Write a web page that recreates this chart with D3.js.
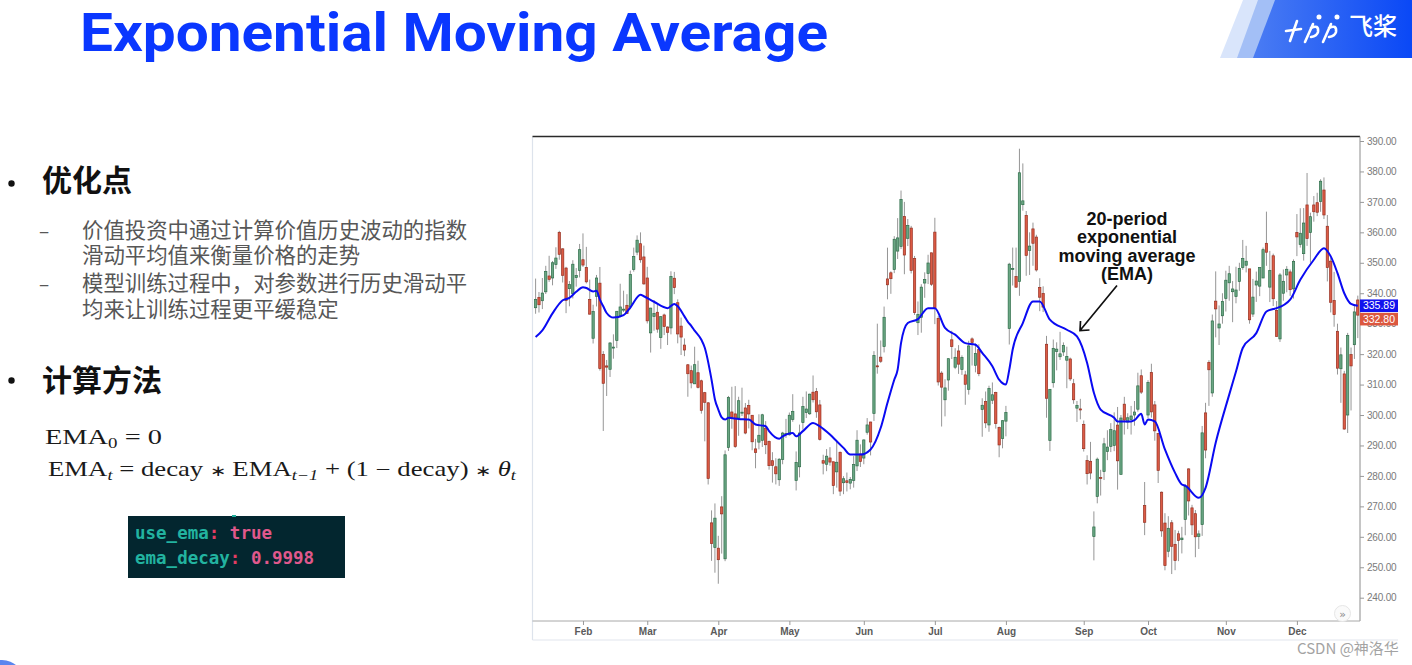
<!DOCTYPE html>
<html><head><meta charset="utf-8">
<script src="https://cdn.jsdelivr.net/npm/d3@7"></script>
<style>html,body{margin:0;padding:0;background:#fff;} svg{display:block;}</style>
</head><body>
<svg id="s" width="1412" height="665"></svg>
<script>
// ---------------- DATA ----------------
const dates = [
"2018-01-11","2018-01-12","2018-01-16","2018-01-17","2018-01-18","2018-01-19","2018-01-22","2018-01-23","2018-01-24","2018-01-25","2018-01-26","2018-01-29","2018-01-30","2018-01-31",
"2018-02-01","2018-02-02","2018-02-05","2018-02-06","2018-02-07","2018-02-08","2018-02-09","2018-02-12","2018-02-13","2018-02-14","2018-02-15","2018-02-16","2018-02-20","2018-02-21","2018-02-22","2018-02-23","2018-02-26","2018-02-27","2018-02-28",
"2018-03-01","2018-03-02","2018-03-05","2018-03-06","2018-03-07","2018-03-08","2018-03-09","2018-03-12","2018-03-13","2018-03-14","2018-03-15","2018-03-16","2018-03-19","2018-03-20","2018-03-21","2018-03-22","2018-03-23","2018-03-26","2018-03-27","2018-03-28","2018-03-29",
"2018-04-02","2018-04-03","2018-04-04","2018-04-05","2018-04-06","2018-04-09","2018-04-10","2018-04-11","2018-04-12","2018-04-13","2018-04-16","2018-04-17","2018-04-18","2018-04-19","2018-04-20","2018-04-23","2018-04-24","2018-04-25","2018-04-26","2018-04-27","2018-04-30",
"2018-05-01","2018-05-02","2018-05-03","2018-05-04","2018-05-07","2018-05-08","2018-05-09","2018-05-10","2018-05-11","2018-05-14","2018-05-15","2018-05-16","2018-05-17","2018-05-18","2018-05-21","2018-05-22","2018-05-23","2018-05-24","2018-05-25","2018-05-29","2018-05-30","2018-05-31",
"2018-06-01","2018-06-04","2018-06-05","2018-06-06","2018-06-07","2018-06-08","2018-06-11","2018-06-12","2018-06-13","2018-06-14","2018-06-15","2018-06-18","2018-06-19","2018-06-20","2018-06-21","2018-06-22","2018-06-25","2018-06-26","2018-06-27","2018-06-28","2018-06-29",
"2018-07-02","2018-07-03","2018-07-05","2018-07-06","2018-07-09","2018-07-10","2018-07-11","2018-07-12","2018-07-13","2018-07-16","2018-07-17","2018-07-18","2018-07-19","2018-07-20","2018-07-23","2018-07-24","2018-07-25","2018-07-26","2018-07-27","2018-07-30","2018-07-31",
"2018-08-01","2018-08-02","2018-08-03","2018-08-06","2018-08-07","2018-08-08","2018-08-09","2018-08-10","2018-08-13","2018-08-14","2018-08-15","2018-08-16","2018-08-17","2018-08-20","2018-08-21","2018-08-22","2018-08-23","2018-08-24","2018-08-27","2018-08-28","2018-08-29","2018-08-30","2018-08-31",
"2018-09-04","2018-09-05","2018-09-06","2018-09-07","2018-09-10","2018-09-11","2018-09-12","2018-09-13","2018-09-14","2018-09-17","2018-09-18","2018-09-19","2018-09-20","2018-09-21","2018-09-24","2018-09-25","2018-09-26","2018-09-27","2018-09-28",
"2018-10-01","2018-10-02","2018-10-03","2018-10-04","2018-10-05","2018-10-08","2018-10-09","2018-10-10","2018-10-11","2018-10-12","2018-10-15","2018-10-16","2018-10-17","2018-10-18","2018-10-19","2018-10-22","2018-10-23","2018-10-24","2018-10-25","2018-10-26","2018-10-29","2018-10-30","2018-10-31",
"2018-11-01","2018-11-02","2018-11-05","2018-11-06","2018-11-07","2018-11-08","2018-11-09","2018-11-12","2018-11-13","2018-11-14","2018-11-15","2018-11-16","2018-11-19","2018-11-20","2018-11-21","2018-11-23","2018-11-26","2018-11-27","2018-11-28","2018-11-29","2018-11-30",
"2018-12-03","2018-12-04","2018-12-06","2018-12-07","2018-12-10","2018-12-11","2018-12-12","2018-12-13","2018-12-14","2018-12-17","2018-12-18","2018-12-19","2018-12-20","2018-12-21","2018-12-24","2018-12-26","2018-12-27","2018-12-28","2018-12-31"];

const opens = [
335.24,338.63,337.54,340.47,345.67,345.01,349.40,360.00,354.58,348.27,341.50,339.85,345.14,347.51,
351.00,348.44,337.97,325.21,338.99,343.31,319.93,316.13,315.02,322.21,324.50,332.50,334.47,336.03,335.53,347.83,353.50,356.27,351.92,
345.01,326.98,332.39,333.75,325.44,332.86,328.90,328.61,344.92,336.88,329.20,322.98,316.50,314.57,310.25,313.89,311.25,307.34,304.00,264.58,256.49,
256.26,269.82,252.78,289.34,301.00,300.37,299.00,300.74,302.32,303.10,299.92,288.87,291.09,291.70,295.70,291.29,285.00,283.00,278.75,285.37,293.61,
293.51,298.57,278.49,283.00,297.50,300.80,300.41,307.50,307.70,303.32,285.01,283.83,285.90,284.65,281.33,287.76,277.76,278.40,277.63,278.51,283.29,287.21,
285.86,294.34,297.70,300.50,316.15,319.00,322.51,344.70,346.71,347.80,353.84,355.40,365.16,358.04,361.40,351.36,330.32,332.10,343.35,346.53,353.28,
360.07,331.75,313.76,305.00,311.50,324.70,315.70,321.04,315.00,313.18,308.45,325.00,316.33,321.50,301.84,304.42,296.74,304.85,307.36,295.90,292.25,
297.99,328.44,347.81,345.46,343.84,369.09,365.55,354.00,361.13,358.45,341.91,339.91,323.24,291.61,310.61,320.87,319.14,320.70,318.00,318.41,310.27,302.26,302.00,
296.94,285.05,284.80,260.10,273.26,279.47,281.44,288.00,289.70,290.04,296.69,280.51,303.56,297.70,298.48,300.00,301.91,312.90,270.26,
300.00,313.95,303.33,293.95,274.65,264.52,255.25,264.61,257.53,261.00,259.06,265.70,282.30,269.50,267.60,260.10,264.00,300.70,317.30,307.25,337.40,328.60,332.60,
338.26,343.43,340.50,338.90,343.87,348.50,349.20,348.00,333.16,342.70,342.33,345.00,356.40,342.00,352.30,334.30,325.00,340.00,346.00,347.00,341.44,
360.00,356.05,353.00,369.00,359.90,369.00,369.74,370.15,373.90,362.00,350.54,337.60,327.50,315.20,313.50,300.00,319.84,323.10,337.79];

const highs = [
344.81,340.41,345.00,349.00,352.30,350.59,355.09,360.50,354.75,348.67,344.00,350.85,348.27,356.19,
359.66,355.23,344.47,336.22,346.00,348.62,320.99,318.08,323.95,326.50,334.12,343.12,340.84,339.69,347.44,354.99,359.00,359.99,355.64,
348.67,335.22,337.75,336.37,332.50,333.30,329.10,347.21,347.00,337.99,332.00,325.15,316.74,316.25,322.44,317.84,311.61,307.59,304.27,268.68,270.96,
260.33,273.35,288.37,306.26,309.28,309.50,306.00,308.98,303.95,305.00,299.98,292.17,300.24,300.40,298.00,291.62,287.80,285.80,285.85,294.47,298.73,
300.82,306.85,288.04,296.86,305.98,307.75,307.01,312.99,308.88,304.94,286.96,288.81,289.44,284.65,291.49,288.00,279.91,281.11,279.64,286.50,295.01,290.37,
291.95,299.00,297.80,320.98,330.00,324.48,335.62,354.97,347.20,358.75,364.67,373.73,370.00,364.38,362.12,352.25,337.30,342.96,346.87,352.63,353.28,
364.78,332.49,314.39,311.75,318.55,327.69,321.94,322.96,319.60,314.50,324.39,325.50,323.54,323.24,305.50,307.72,309.62,310.70,307.65,296.20,298.32,
303.00,349.99,355.00,354.98,387.46,382.64,367.01,360.00,363.19,359.20,344.93,342.28,325.99,308.50,324.79,323.88,327.32,323.85,322.44,318.88,311.85,304.60,305.31,
298.19,286.78,291.17,268.35,286.03,282.00,292.50,295.00,297.33,300.87,302.64,300.00,305.98,300.58,302.99,304.60,313.89,314.96,278.00,
311.44,316.84,304.60,294.00,274.88,267.76,266.77,265.51,262.25,261.99,263.28,277.27,282.50,270.50,268.80,262.10,296.40,304.00,318.00,333.00,347.18,336.00,340.00,
347.39,349.00,344.00,348.70,350.00,357.50,355.57,348.00,344.70,347.11,348.58,355.00,366.80,353.90,353.00,337.43,346.60,347.81,348.90,347.80,351.12,
366.00,367.91,367.98,379.49,366.46,371.91,372.99,377.44,378.04,365.70,351.55,347.01,330.00,322.17,314.50,326.97,322.17,336.24,339.21];

const lows = [
333.26,333.67,334.80,339.75,343.74,342.60,348.00,351.00,343.52,333.46,335.71,338.28,342.17,345.19,
348.63,343.22,333.00,323.50,335.66,314.60,294.76,306.25,312.50,318.50,322.00,332.10,333.82,333.37,334.75,347.10,352.50,350.01,342.81,
330.07,320.51,327.68,327.03,321.74,326.27,322.99,326.50,339.71,323.55,319.71,319.33,306.00,308.77,310.19,308.73,300.45,291.36,277.18,252.10,248.21,
244.59,254.49,252.00,288.20,295.50,289.21,293.18,299.66,293.68,295.60,288.42,282.51,288.73,289.50,287.17,282.06,277.80,277.21,276.73,283.83,292.50,
293.22,297.78,275.23,279.52,295.17,299.00,300.05,304.11,299.08,291.62,280.50,281.56,283.36,274.00,276.14,273.42,274.00,274.89,275.61,276.15,281.60,282.93,
283.84,293.55,286.74,298.06,313.58,317.10,320.55,338.00,339.80,346.60,351.25,354.50,346.25,355.50,346.50,332.86,326.27,327.04,338.50,343.02,342.41,
329.85,309.69,296.22,299.55,308.00,318.38,315.07,313.51,313.18,303.36,306.70,316.25,314.01,312.76,292.86,295.70,294.50,303.61,295.53,286.13,289.07,
293.00,323.16,342.53,341.82,339.15,367.12,345.73,346.00,349.02,347.10,334.11,333.82,299.10,288.20,309.00,314.67,318.10,319.40,308.81,311.19,303.69,297.72,298.60,
288.00,277.18,278.88,252.26,271.00,273.55,278.65,285.18,287.82,288.13,275.50,280.50,293.58,295.37,293.58,296.50,301.11,306.91,260.55,
299.00,299.15,291.57,277.67,260.00,249.00,253.30,247.77,249.03,252.01,254.54,260.50,267.00,260.60,253.30,256.00,260.30,285.80,303.00,306.00,325.51,323.00,330.00,
334.00,337.52,330.50,336.70,340.80,347.70,346.84,330.00,332.20,337.15,339.04,345.00,349.00,337.11,335.81,325.70,324.00,337.55,340.32,339.14,338.25,
352.19,355.00,350.72,355.55,350.00,363.50,365.33,366.75,364.37,343.88,333.69,329.00,313.30,304.00,295.20,294.09,301.50,318.41,325.26];

const closes = [
337.95,336.22,340.06,347.16,344.57,350.02,351.56,352.79,345.89,337.64,342.85,349.53,345.82,354.31,
349.25,343.75,333.13,333.97,345.00,315.23,310.42,315.73,323.66,322.31,334.07,335.49,334.77,333.30,346.17,352.05,357.42,350.99,343.06,
330.93,335.12,333.35,328.20,332.30,329.10,327.17,345.51,341.84,326.63,325.60,321.35,313.56,310.55,316.53,309.10,301.54,304.18,279.18,257.78,266.13,
252.48,267.53,286.94,305.72,299.30,289.66,304.70,300.93,294.08,300.34,291.21,287.69,293.35,300.08,290.24,283.37,283.46,280.69,285.48,294.08,293.90,
299.92,301.15,284.45,294.09,302.77,301.97,306.85,305.02,301.06,291.97,284.18,286.48,284.54,276.82,284.49,275.01,279.07,277.85,278.85,283.76,291.72,284.73,
291.82,296.74,291.13,319.50,316.09,317.66,332.10,342.77,344.78,357.72,358.17,370.83,352.55,362.22,347.51,333.63,333.01,342.00,344.50,349.93,342.95,
335.07,310.86,309.16,308.90,318.51,322.47,318.96,316.71,318.87,310.10,322.69,323.85,320.23,313.58,303.20,297.43,308.74,306.65,297.18,290.17,298.14,
300.84,349.54,348.17,341.99,379.57,370.34,352.45,355.49,356.41,347.64,338.69,335.45,305.50,308.44,321.90,321.64,320.10,322.82,319.27,311.86,305.01,303.15,301.66,
288.95,280.74,280.95,263.24,285.50,279.44,290.54,289.46,295.20,294.84,284.96,299.02,298.33,299.10,299.68,300.99,309.58,307.52,264.77,
310.70,301.02,294.80,281.83,261.95,250.56,262.80,256.88,252.23,258.78,259.59,276.59,271.78,263.91,260.00,260.95,294.14,288.50,314.86,330.90,334.85,329.90,337.32,
344.28,346.41,341.40,341.06,348.16,351.40,350.51,331.28,338.73,344.00,348.44,354.31,353.47,347.49,338.19,325.83,346.00,343.92,347.87,341.17,350.48,
358.49,359.70,363.06,357.97,365.15,366.76,366.60,376.79,365.71,348.42,337.03,332.97,315.38,319.77,295.39,326.09,316.13,333.87,332.80];

// 20-period EMA
const emaDates = ["2018-01-11","2018-01-16","2018-01-19","2018-01-24","2018-01-26","2018-01-30","2018-02-01","2018-02-02","2018-02-06","2018-02-07",
"2018-02-08","2018-02-09","2018-02-12","2018-02-14","2018-02-20","2018-02-22","2018-02-27","2018-02-28","2018-03-05","2018-03-09",
"2018-03-13","2018-03-14","2018-03-16","2018-03-19","2018-03-20","2018-03-21","2018-03-23","2018-03-26","2018-03-28","2018-03-29",
"2018-04-02","2018-04-03","2018-04-04","2018-04-05","2018-04-10","2018-04-13","2018-04-17","2018-04-20","2018-04-23","2018-04-26",
"2018-04-27","2018-05-02","2018-05-03","2018-05-07","2018-05-10","2018-05-14","2018-05-17","2018-05-21","2018-05-23","2018-05-25",
"2018-05-31","2018-06-05","2018-06-08","2018-06-12","2018-06-14","2018-06-15","2018-06-18","2018-06-20","2018-06-25","2018-06-28",
"2018-07-02","2018-07-06","2018-07-11","2018-07-16","2018-07-19","2018-07-23","2018-07-26","2018-07-30","2018-08-01","2018-08-02",
"2018-08-03","2018-08-08","2018-08-13","2018-08-15","2018-08-20","2018-08-27","2018-08-30","2018-09-05","2018-09-07","2018-09-11",
"2018-09-17","2018-09-18","2018-09-24","2018-09-25","2018-09-27","2018-09-28","2018-10-01","2018-10-03","2018-10-08","2018-10-11",
"2018-10-15","2018-10-16","2018-10-22","2018-10-24","2018-10-29","2018-11-02","2018-11-06","2018-11-08","2018-11-14","2018-11-19",
"2018-11-21","2018-11-23","2018-11-29","2018-12-04","2018-12-11","2018-12-14","2018-12-18","2018-12-20","2018-12-24","2018-12-27","2018-12-31"];
const emaValues = [325.6,327.8,333.4,337.7,338.5,340.5,342.0,341.7,340.6,340.8,
337.9,335.7,333.5,332.0,332.8,335.3,339.5,339.0,337.2,335.1,
336.5,335.7,332.4,330.6,329.3,327.7,324.7,322.1,311.6,305.1,
301.8,299.2,298.5,299.1,298.7,298.5,296.9,296.3,294.7,292.2,
293.0,294.1,293.0,294.7,297.4,296.3,293.6,291.4,289.2,287.0,
287.0,288.7,295.8,304.0,311.6,314.9,323.6,330.2,331.5,335.1,
335.1,328.6,326.4,323.6,323.1,320.4,316.0,311.6,310.0,314.9,
321.5,330.2,337.3,337.3,331.3,328.0,325.8,317.1,307.3,301.8,
299.1,297.9,297.9,298.3,300.4,296.9,298.5,297.9,288.7,281.0,
277.2,276.8,272.8,276.1,290.9,306.7,314.3,322.0,326.9,334.0,
334.8,335.1,337.9,344.4,351.0,354.8,352.1,346.6,340.0,336.5,335.89];

const monthTicks = ["2018-02-01","2018-03-01","2018-04-02","2018-05-01","2018-06-01","2018-07-02","2018-08-01","2018-09-04","2018-10-01","2018-11-01","2018-12-03"];
const monthLabels = ["Feb","Mar","Apr","May","Jun","Jul","Aug","Sep","Oct","Nov","Dec"];
const priceTicks = [240,250,260,270,280,290,300,310,320,330,340,350,360,370,380,390];
const lastEma = 335.89, lastClose = 332.80;

const titleText = "Exponential Moving Average";
const heading1 = "优化点", heading2 = "计算方法";
const bullet1 = ["价值投资中通过计算价值历史波动的指数","滑动平均值来衡量价格的走势"];
const bullet2 = ["模型训练过程中，对参数进行历史滑动平","均来让训练过程更平缓稳定"];
const annotationLines = ["20-period","exponential","moving average","(EMA)"];

// ---------------- DRAW ----------------
const svg = d3.select("#s");
svg.append("rect").attr("width",1412).attr("height",665).attr("fill","#fff");
const defs = svg.append("defs");

// logo banner
const lg = defs.append("linearGradient").attr("id","lg").attr("x1","0").attr("x2","1").attr("y1","0").attr("y2","0");
lg.append("stop").attr("offset","0").attr("stop-color","#4a7cf3");
lg.append("stop").attr("offset","1").attr("stop-color","#0a48f6");
svg.append("polygon").attr("points","1220,58 1243,0 1412,0 1412,58").attr("fill","#d9e5fb");
svg.append("polygon").attr("points","1237,58 1258,0 1412,0 1412,58").attr("fill","#a3bff6");
svg.append("polygon").attr("points","1253,58 1275,0 1412,0 1412,58").attr("fill","url(#lg)");
const logo = svg.append("g").attr("stroke","#fff").attr("stroke-width",2.6).attr("fill","none").attr("stroke-linecap","round");
logo.append("path").attr("d","M1286,31 L1301,29");
logo.append("path").attr("d","M1297,21 L1290,41");
logo.append("path").attr("d","M1313,24 L1305,42 M1311,28 q8,-4 7,4 q-1,4 -7,5");
logo.append("path").attr("d","M1331,24 L1323,42 M1329,28 q8,-4 7,4 q-1,4 -7,5");
logo.append("circle").attr("cx",1319).attr("cy",17).attr("r",1.2).attr("fill","#fff");
logo.append("circle").attr("cx",1337).attr("cy",17).attr("r",1.2).attr("fill","#fff");
svg.append("text").attr("x",1349).attr("y",35).text("飞桨")
  .attr("font-family","'Noto Sans CJK SC'").attr("font-size",24).attr("font-weight",500).attr("fill","#fff");

// title
svg.append("text").attr("x",80).attr("y",51).text(titleText)
  .attr("font-family","Roboto,'Liberation Sans',sans-serif").attr("font-weight",700)
  .attr("font-size",54).attr("fill","#0a37ff")
  .attr("textLength",748).attr("lengthAdjust","spacingAndGlyphs");

// left text
const cjk = "'Noto Sans CJK SC','Noto Sans',sans-serif";
svg.append("circle").attr("cx",11.5).attr("cy",183.5).attr("r",3.2).attr("fill","#111");
svg.append("circle").attr("cx",11.5).attr("cy",380.5).attr("r",3.2).attr("fill","#111");
svg.append("text").attr("x",42).attr("y",191).text(heading1)
  .attr("font-family",cjk).attr("font-size",30).attr("font-weight",700).attr("fill","#111");
svg.append("text").attr("x",42).attr("y",391).text(heading2)
  .attr("font-family",cjk).attr("font-size",30).attr("font-weight",700).attr("fill","#111");
function para(lines, y0, gap){
  const t = svg.append("text").attr("x",82).attr("y",y0)
    .attr("font-family",cjk).attr("font-size",21.4).attr("fill","#575757");
  lines.forEach((s,i)=> t.append("tspan").attr("x",82).attr("dy", i===0?0:gap).text(s));
}
para(bullet1, 238, 25);
para(bullet2, 291, 26);
[238,291].forEach(yy=>{
  svg.append("text").attr("x",39).attr("y",yy).text("–")
    .attr("font-family",cjk).attr("font-size",19).attr("fill","#575757");
});

// formulas
function fitWidth(sel, x0, w){
  const bb = sel.node().getBBox();
  const sx = w / bb.width;
  sel.attr("transform",`translate(${x0},0) scale(${sx},1) translate(${-bb.x},0)`);
}
const serif = "'Liberation Serif','Times New Roman',serif";
const f1 = svg.append("text").attr("x",0).attr("y",444).attr("font-family",serif).attr("font-size",21).attr("fill","#1a1a1a");
f1.append("tspan").text("EMA");
f1.append("tspan").text("0").attr("font-size",14).attr("dy",4);
f1.append("tspan").text(" = 0").attr("dy",-4);
fitWidth(f1,45,117);
const f2 = svg.append("text").attr("x",0).attr("y",476).attr("font-family",serif).attr("font-size",20.5).attr("fill","#1a1a1a");
f2.append("tspan").text("EMA");
f2.append("tspan").text("t").attr("font-size",14).attr("font-style","italic").attr("dy",4);
f2.append("tspan").text(" = decay ").attr("dy",-4);
f2.append("tspan").text("∗").attr("font-size",15);
f2.append("tspan").text(" EMA");
f2.append("tspan").text("t−1").attr("font-size",14).attr("font-style","italic").attr("dy",4);
f2.append("tspan").text(" + (1 − decay) ").attr("dy",-4);
f2.append("tspan").text("∗").attr("font-size",15);
f2.append("tspan").text(" θ").attr("font-style","italic");
f2.append("tspan").text("t").attr("font-size",14).attr("font-style","italic").attr("dy",4);
fitWidth(f2,48,472);

// code box
svg.append("rect").attr("x",128).attr("y",516).attr("width",217).attr("height",62).attr("fill","#03262f");
svg.append("rect").attr("x",232).attr("y",515).attr("width",4).attr("height",2).attr("fill","#1fae9c");
const mono = "'DejaVu Sans Mono',monospace";
const c1 = svg.append("text").attr("x",135).attr("y",539).attr("font-family",mono).attr("font-size",17.5).attr("font-weight",700);
c1.append("tspan").text("use_ema").attr("fill","#22b3a0");
c1.append("tspan").text(": ").attr("fill","#e33d63");
c1.append("tspan").text("true").attr("fill","#e0588c");
const c2 = svg.append("text").attr("x",135).attr("y",564).attr("font-family",mono).attr("font-size",17.5).attr("font-weight",700);
c2.append("tspan").text("ema_decay").attr("fill","#22b3a0");
c2.append("tspan").text(": ").attr("fill","#e33d63");
c2.append("tspan").text("0.9998").attr("fill","#e0588c");

// ---------------- CHART ----------------
const L = 532.5, R = 1360, T = 136.5, B = 621;
const x = d3.scalePoint().domain(dates).range([535.6, 1357.8]);
const y = d3.scaleLinear().domain([240,390]).range([597.7,141]);

// frame
svg.append("line").attr("x1",L).attr("x2",L).attr("y1",T).attr("y2",640).attr("stroke","#dde3ec").attr("stroke-width",1.2);
svg.append("line").attr("x1",L).attr("x2",1398).attr("y1",640).attr("y2",640).attr("stroke","#e1e6ee").attr("stroke-width",1.2);

defs.append("clipPath").attr("id","plot").append("rect").attr("x",L).attr("y",T).attr("width",R-L).attr("height",B-T);
const plot = svg.append("g").attr("clip-path","url(#plot)");

const candles = dates.map((d,i)=>({d, o:opens[i], h:highs[i], l:lows[i], c:closes[i]}));
plot.append("g").selectAll("line").data(candles).join("line")
  .attr("x1",d=>x(d.d)).attr("x2",d=>x(d.d))
  .attr("y1",d=>y(d.h)).attr("y2",d=>y(d.l))
  .attr("stroke","#8a8a8a").attr("stroke-width",0.9);
plot.append("g").selectAll("rect").data(candles).join("rect")
  .attr("x",d=>x(d.d)-1.15).attr("width",2.3)
  .attr("y",d=>y(Math.max(d.o,d.c)))
  .attr("height",d=>Math.max(1,Math.abs(y(d.o)-y(d.c))))
  .attr("fill",d=>d.c>=d.o?"#6aa683":"#dc5b45")
  .attr("stroke",d=>d.c>=d.o?"#2e6d49":"#962f20")
  .attr("stroke-width",0.7);

const emaPts = emaDates.map((d,i)=>[x(d), y(emaValues[i])]);
plot.append("path").datum(emaPts)
  .attr("d", d3.line().curve(d3.curveMonotoneX))
  .attr("fill","none").attr("stroke","#0a0af2").attr("stroke-width",2);

// top line + axes
svg.append("line").attr("x1",L).attr("x2",R).attr("y1",T).attr("y2",T).attr("stroke","#2a2a2a").attr("stroke-width",1.5);
svg.append("line").attr("x1",R).attr("x2",R).attr("y1",T).attr("y2",B).attr("stroke","#8c8c8c").attr("stroke-width",1);
svg.append("line").attr("x1",L).attr("x2",R).attr("y1",B).attr("y2",B).attr("stroke","#a8a8a8").attr("stroke-width",1);

const yAx = svg.append("g").attr("transform",`translate(${R},0)`)
  .call(d3.axisRight(y).tickValues(priceTicks).tickFormat(d3.format(".2f")).tickSize(4).tickPadding(3));
yAx.select(".domain").remove();
yAx.selectAll("line").attr("stroke","#999");
yAx.selectAll("text").attr("font-family","'Liberation Sans',Arial,sans-serif").attr("font-size",10)
  .attr("letter-spacing","-0.2").attr("fill","#7a7a7a");

const xAx = svg.append("g").attr("transform",`translate(0,${B})`)
  .call(d3.axisBottom(x).tickValues(monthTicks).tickFormat((d,i)=>monthLabels[i]).tickSize(4).tickPadding(3));
xAx.select(".domain").remove();
xAx.selectAll("line").attr("stroke","#999");
xAx.selectAll("text").attr("font-family","'Liberation Sans',Arial,sans-serif").attr("font-size",10)
  .attr("font-weight",700).attr("fill","#5a5a5a");

// price tags
const tagH = 12.6;
const yBlue = y(lastEma), yRed = Math.max(y(lastClose), yBlue + tagH + 0.8);
svg.append("rect").attr("x",R).attr("y",yBlue-tagH/2).attr("width",38).attr("height",tagH).attr("fill","#1212ee");
svg.append("text").attr("x",R+19).attr("y",yBlue+3.6).attr("text-anchor","middle").text(lastEma.toFixed(2))
  .attr("font-family","'Liberation Sans',Arial,sans-serif").attr("font-size",10.5).attr("fill","#fff");
svg.append("rect").attr("x",R).attr("y",yRed-tagH/2).attr("width",38).attr("height",tagH).attr("fill","#dc573f");
svg.append("text").attr("x",R+19).attr("y",yRed+3.6).attr("text-anchor","middle").text(lastClose.toFixed(2))
  .attr("font-family","'Liberation Sans',Arial,sans-serif").attr("font-size",10.5).attr("fill","#fff");

// scroll button
svg.append("circle").attr("cx",1342.5).attr("cy",613.5).attr("r",8).attr("fill","#fafafa").attr("stroke","#e6e6e6");
svg.append("text").attr("x",1342.5).attr("y",617.5).attr("text-anchor","middle").text("»")
  .attr("font-family","'DejaVu Sans',sans-serif").attr("font-size",11).attr("fill","#888");

// annotation
const annY = [224.5,243,261.5,280];
annotationLines.forEach((t,i)=>{
  svg.append("text").attr("x",1127).attr("y",annY[i]).attr("text-anchor","middle").text(t)
    .attr("font-family","'Liberation Sans',Arial,sans-serif").attr("font-weight",700).attr("font-size",18).attr("fill","#111");
});
svg.append("path").attr("d","M1117,285.5 L1080,330.5 M1080.5,321 L1080,330.5 L1089.5,330")
  .attr("fill","none").attr("stroke","#111").attr("stroke-width",1.7);

// watermark + corner arc
svg.append("text").attr("x",1297).attr("y",654).text("CSDN @神洛华")
  .attr("font-family",cjk).attr("font-size",15).attr("fill","#a3a3a3");
svg.append("circle").attr("cx",2).attr("cy",682).attr("r",22).attr("fill","#5a86ef");
</script>
</body></html>
